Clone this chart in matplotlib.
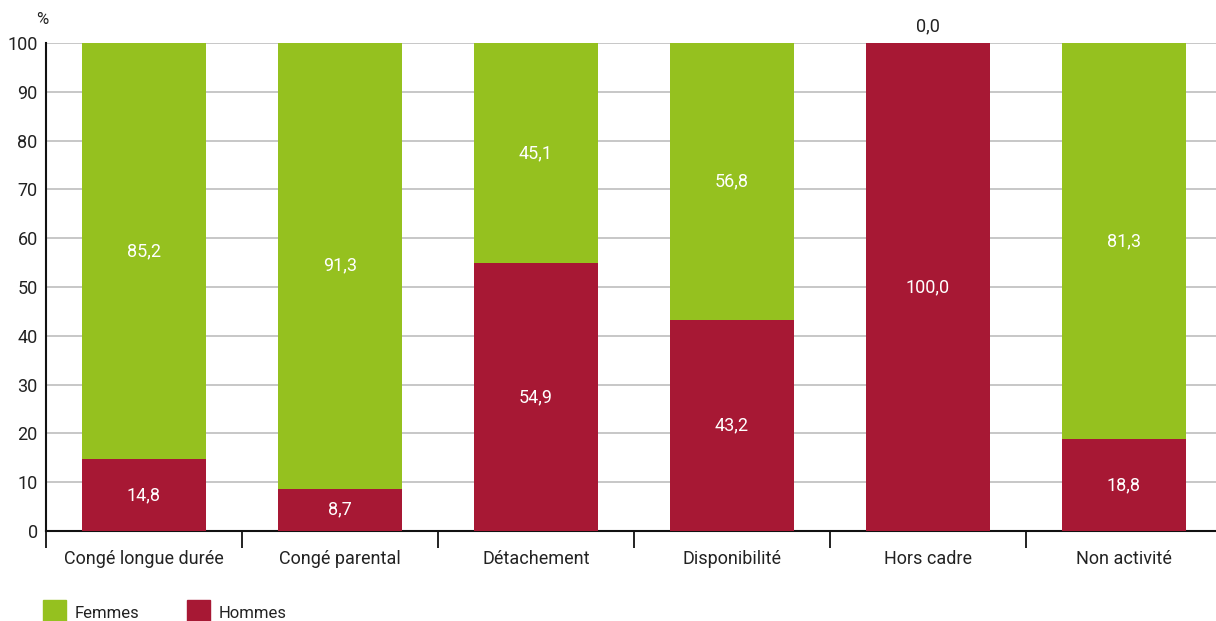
import matplotlib
matplotlib.use("Agg")
import matplotlib.pyplot as plt
from matplotlib.patches import Rectangle
from matplotlib import font_manager

categories = ["Congé longue durée", "Congé parental", "Détachement",
              "Disponibilité", "Hors cadre", "Non activité"]
hommes = [14.8, 8.7, 54.9, 43.2, 100.0, 18.8]
femmes = [85.2, 91.3, 45.1, 56.8, 0.0, 81.3]
yticks = [0, 10, 20, 30, 40, 50, 60, 70, 80, 90, 100]

green = "#95c11f"
red = "#a71834"

names = {f.name for f in font_manager.fontManager.ttflist}
family = "Liberation Sans Narrow" if "Liberation Sans Narrow" in names else "Roboto"
plt.rcParams["font.family"] = [family, "DejaVu Sans"]

fig = plt.figure(figsize=(12.16, 6.21), dpi=100)
ax = fig.add_axes([46 / 1216, 1 - 531 / 621, (1222 - 46) / 1216, 488 / 621])

x = list(range(len(categories)))
w = 0.63
ax.bar(x, hommes, width=w, color=red, zorder=3)
ax.bar(x, femmes, width=w, bottom=hommes, color=green, zorder=3)

def fmt(v):
    return f"{v:.1f}".replace(".", ",")

for i, (h, f) in enumerate(zip(hommes, femmes)):
    if h > 0:
        ax.text(i, h / 2, fmt(h), ha="center", va="center", color="white", fontsize=13)
    if f > 0:
        ax.text(i, h + f / 2, fmt(f), ha="center", va="center", color="white", fontsize=13)
    else:
        ax.text(i, h + 1.5, fmt(f), ha="center", va="bottom", color="#222222", fontsize=13)

ax.set_xlim(-0.5, len(categories) - 0.5)
ax.set_ylim(0, 100)
ax.set_yticks(yticks)
ax.set_yticklabels([str(t) for t in yticks], fontsize=13, color="#222222")
ax.tick_params(axis="y", length=0, pad=6)
ax.yaxis.grid(True, color="#bdbdbd", linewidth=1.2, zorder=0)

ax.set_xticks(x)
ax.set_xticklabels(categories, fontsize=13, color="#222222")
ax.tick_params(axis="x", which="major", length=0, pad=14)
ax.set_xticks([i - 0.5 for i in range(len(categories) + 1)], minor=True)
ax.tick_params(axis="x", which="minor", length=12, width=1.3, color="#111111")

for s in ["top", "right"]:
    ax.spines[s].set_visible(False)
ax.spines["left"].set_linewidth(1.5)
ax.spines["bottom"].set_linewidth(1.5)
ax.spines["left"].set_color("#111111")
ax.spines["bottom"].set_color("#111111")

fig.text(42 / 1216, 1 - 19 / 621, "%", ha="center", va="center", fontsize=12, color="#222222")

# legend
for x0, col, lab in [(43, green, "Femmes"), (187, red, "Hommes")]:
    fig.patches.append(Rectangle((x0 / 1216, 0), 23 / 1216, 21 / 621,
                                 transform=fig.transFigure, color=col, figure=fig))
    fig.text((x0 + 32) / 1216, 1 - 613 / 621, lab, ha="left", va="center",
             fontsize=12, color="#222222")

fig.savefig("out.png", dpi=100)
